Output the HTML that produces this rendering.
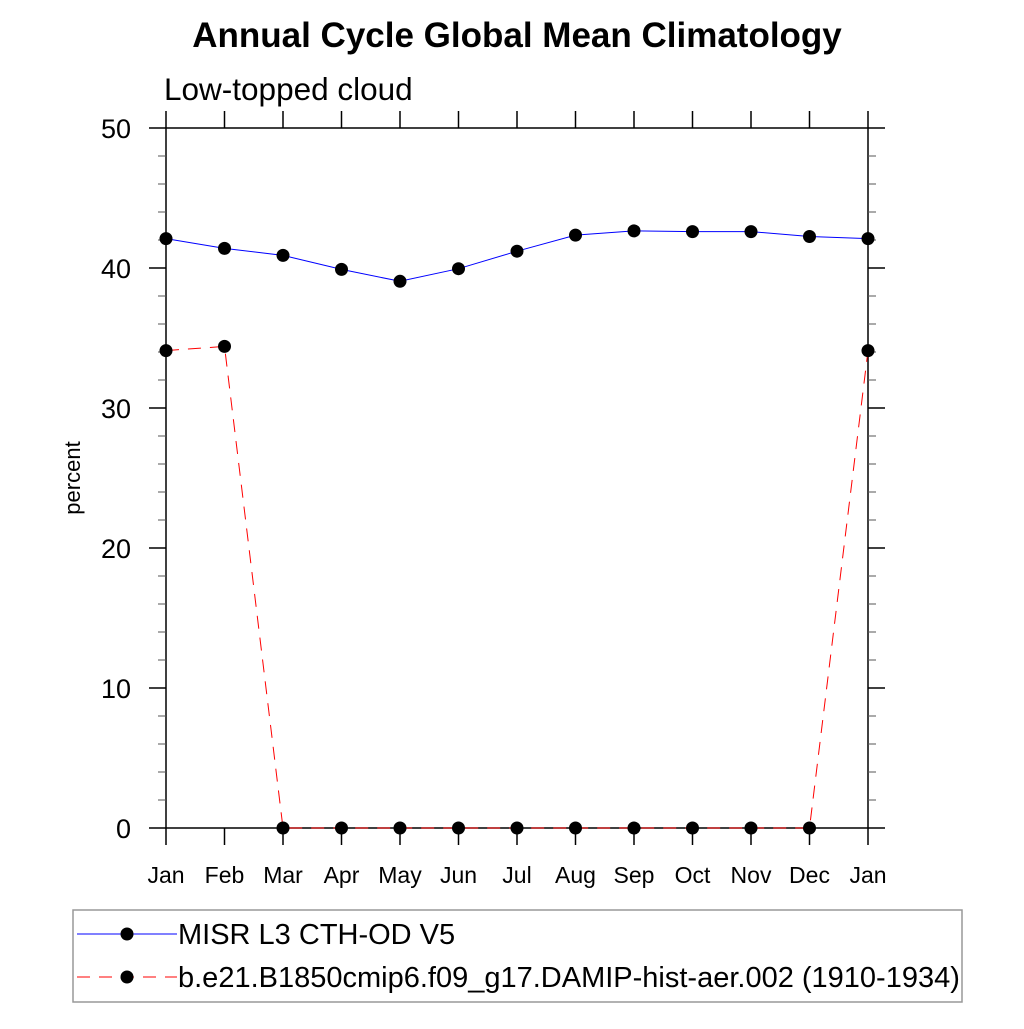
<!DOCTYPE html>
<html><head><meta charset="utf-8"><style>
body{margin:0;background:#fff}
svg text{font-family:"Liberation Sans",Arial,sans-serif}
</style></head><body>
<svg id="chart" width="1024" height="1024" xmlns="http://www.w3.org/2000/svg">
<text x="517" y="47" text-anchor="middle" font-size="35" font-weight="bold">Annual Cycle Global Mean Climatology</text>
<text x="164" y="100" font-size="31.5">Low-topped cloud</text>
<text transform="translate(80,478) rotate(-90)" text-anchor="middle" font-size="22">percent</text>
<g id="axes"></g>
<g id="series"></g>
<rect x="73" y="910" width="889" height="92" fill="none" stroke="#999" stroke-width="1.5"/>
<g>
<line x1="77" y1="934" x2="177" y2="934" stroke="#0000ff" stroke-width="1"/>
<circle cx="127" cy="934" r="6.5" fill="#000"/>
<text x="178" y="944" font-size="29">MISR L3 CTH-OD V5</text>
</g>
<g>
<line x1="77" y1="977" x2="177" y2="977" stroke="#ff0000" stroke-width="1" stroke-dasharray="13,9"/>
<circle cx="127" cy="977" r="6.5" fill="#000"/>
<text x="178" y="987" font-size="29">b.e21.B1850cmip6.f09_g17.DAMIP-hist-aer.002 (1910-1934)</text>
</g>
</svg>
<script>
const months = ["Jan","Feb","Mar","Apr","May","Jun","Jul","Aug","Sep","Oct","Nov","Dec","Jan"];
const misrValues = [42.1,41.4,40.9,39.9,39.05,39.95,41.2,42.35,42.65,42.6,42.6,42.25,42.1];
const modelValues = [34.1,34.4,0,0,0,0,0,0,0,0,0,0,34.1];
const yTicks = [0,10,20,30,40,50];
const NS="http://www.w3.org/2000/svg";
const L=166,R=868,T=128,B=828,yMin=0,yMax=50;
const xs=i=>L+(R-L)*i/(months.length-1);
const ys=v=>B-(B-T)*(v-yMin)/(yMax-yMin);
function mk(tag,attrs,parent){const e=document.createElementNS(NS,tag);for(const k in attrs)e.setAttribute(k,attrs[k]);parent.appendChild(e);return e;}
const ax=document.getElementById('axes');
mk('rect',{x:L,y:T,width:R-L,height:B-T,fill:'none',stroke:'#000','stroke-width':1.5},ax);
yTicks.forEach(v=>{
  const y=ys(v);
  const t1=mk('line',{x1:149,y1:y,x2:L,y2:y,stroke:'#000','stroke-width':1.5},ax);
  
  
  mk('line',{x1:R,y1:y,x2:885,y2:y,stroke:'#000','stroke-width':1.5},ax);
  const lb=mk('text',{x:131,y:y+10,'text-anchor':'end','font-size':27},ax);
  lb.textContent=v;
  
  
});
for(let v=yMin;v<=yMax;v+=2){ if(v%10===0)continue; const y=ys(v);
  mk('line',{x1:158,y1:y,x2:L,y2:y,stroke:'#555','stroke-width':1},ax);
  mk('line',{x1:R,y1:y,x2:876,y2:y,stroke:'#555','stroke-width':1},ax);
}
months.forEach((m,i)=>{
  const x=xs(i);
  mk('line',{x1:x,y1:111,x2:x,y2:T,stroke:'#000','stroke-width':1.5},ax);
  mk('line',{x1:x,y1:B,x2:x,y2:845,stroke:'#000','stroke-width':1.5},ax);
  const lb=mk('text',{x:x,y:883,'text-anchor':'middle','font-size':23},ax);
  lb.textContent=m;
  
  
});
const sg=document.getElementById('series');
function drawSeries(vals,color,dash,name){
  const p=mk('polyline',{points:vals.map((v,i)=>xs(i)+','+ys(v)).join(' '),fill:'none',stroke:color,'stroke-width':1,'stroke-dasharray':dash},sg);
  
  
  vals.forEach((v,i)=>{
    const c=mk('circle',{cx:xs(i),cy:ys(v),r:6.5,fill:'#000'},sg);
    
    
  });
}
drawSeries(modelValues,'#ff0000','13,9','model');
drawSeries(misrValues,'#0000ff','none','misr');
</script>
</body></html>
